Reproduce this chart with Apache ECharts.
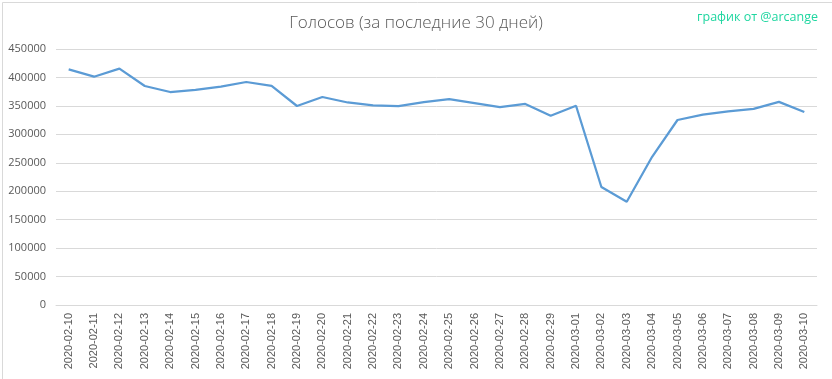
<!DOCTYPE html>
<html><head><meta charset="utf-8">
<script src="https://cdn.jsdelivr.net/npm/echarts@6/dist/echarts.min.js"></script>
<style>html,body{margin:0;padding:0;background:#fff}#c{width:832px;height:379px}</style>
</head><body><div id="c"></div>
<script>
const categories = ["2020-02-10","2020-02-11","2020-02-12","2020-02-13","2020-02-14","2020-02-15","2020-02-16","2020-02-17","2020-02-18","2020-02-19","2020-02-20","2020-02-21","2020-02-22","2020-02-23","2020-02-24","2020-02-25","2020-02-26","2020-02-27","2020-02-28","2020-02-29","2020-03-01","2020-03-02","2020-03-03","2020-03-04","2020-03-05","2020-03-06","2020-03-07","2020-03-08","2020-03-09","2020-03-10"];
const votes = [414300,401300,415500,385000,374400,378000,383800,392000,385000,349800,365600,356000,351000,349500,356800,362000,355000,348000,353500,332700,350300,207400,181600,260500,325200,334500,340300,344800,357000,339300];
const yTicks = {min:0, max:450000, interval:50000};
const titleText = "Голосов (за последние 30 дней)";
const creditText = "график от @arcange";

const chart = echarts.init(document.getElementById('c'), null, {renderer:'canvas'});
chart.setOption({
  animation:false,
  backgroundColor:'#fff',
  title:[{text:titleText,left:'center',top:10,textStyle:{fontFamily:'Open Sans',fontWeight:300,fontSize:17,color:'#595959'}},
         {text:creditText,right:9,top:6,textStyle:{fontFamily:'Open Sans',fontWeight:'normal',fontSize:12.5,color:'#1fd6a0'}}],
  graphic:[{type:'rect',left:0,top:0,shape:{width:831,height:378},style:{fill:'none',stroke:'#d9d9d9',lineWidth:1}}],
  grid:{left:56,right:15,top:49,bottom:74},
  xAxis:{type:'category',data:categories,boundaryGap:true,
    axisLine:{lineStyle:{color:'#d9d9d9'}},axisTick:{show:false},
    axisLabel:{rotate:90,interval:0,fontFamily:'Liberation Sans',fontSize:11,color:'#595959',margin:8}},
  yAxis:{type:'value',min:yTicks.min,max:yTicks.max,interval:yTicks.interval,
    axisLine:{show:false},axisTick:{show:false},
    splitLine:{lineStyle:{color:'#d9d9d9'}},
    axisLabel:{fontFamily:'Open Sans',fontSize:11,color:'#595959',margin:10,formatter:function(v){return String(v);}}},
  series:[{type:'line',data:votes,showSymbol:false,symbol:'none',
    lineStyle:{color:'#5b9bd5',width:2.25},itemStyle:{color:'#5b9bd5'}}]
});
</script></body></html>
